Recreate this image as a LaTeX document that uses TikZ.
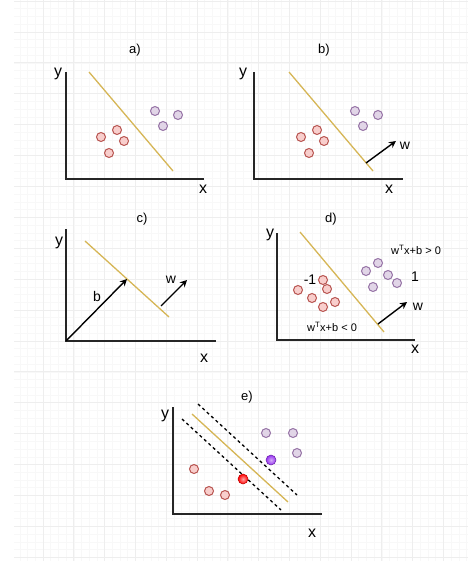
\documentclass[tikz,border=0pt]{standalone}
\usepackage{fontspec}
\setmainfont{Liberation Sans}
\usetikzlibrary{arrows.meta}
\definecolor{gminor}{RGB}{248,248,248}
\definecolor{gmajor}{RGB}{238,238,238}
\definecolor{redfill}{HTML}{F8CECC}
\definecolor{redline}{HTML}{B85450}
\definecolor{purfill}{HTML}{E1D5E7}
\definecolor{purline}{HTML}{9673A6}
\definecolor{gold}{HTML}{D6B656}
\definecolor{vio}{RGB}{150,50,240}
\tikzset{
  redpt/.style={circle,draw=redline,fill=redfill,line width=1pt,minimum size=9pt,inner sep=0pt},
  purpt/.style={circle,draw=purline,fill=purfill,line width=1pt,minimum size=9pt,inner sep=0pt},
  redball/.style={circle,draw=red!75!black,line width=0.5pt,inner color=red!35,outer color=red,minimum size=10pt,inner sep=0pt},
  purball/.style={circle,draw=vio!70!black,line width=0.5pt,inner color=vio!40,outer color=vio,minimum size=10pt,inner sep=0pt},
  axis/.style={draw=black!85,line width=1.2pt},
  sep/.style={draw=gold,line width=1.3pt},
  margin/.style={draw=black,line width=1.3pt,dash pattern=on 3pt off 3pt},
  vec/.style={draw=black,line width=1.4pt,-{Stealth[length=7pt,width=7pt]}},
  axlab/.style={font=\fontsize{16}{17}\selectfont,inner sep=0pt},
  title/.style={font=\fontsize{13}{15}\selectfont,inner sep=0pt},
  vlab/.style={font=\fontsize{14}{16}\selectfont,inner sep=0pt},
  small/.style={font=\fontsize{11}{13}\selectfont,inner sep=0pt},
}
\begin{document}
\begin{tikzpicture}[x=1pt,y=-1pt]
\useasboundingbox (0,0) rectangle (468,561);
\fill[white] (0,0) rectangle (468,561);
% grid
\begin{scope}
\clip (14,0) rectangle (468,561);
\foreach \i in {0,...,60} {
  \draw[gminor,line width=0.5pt] ({12.2+\i*7.7},0) -- ({12.2+\i*7.7},561);
}
\foreach \i in {0,...,73} {
  \draw[gminor,line width=0.5pt] (0,{1+\i*7.725}) -- (468,{1+\i*7.725});
}
\foreach \i in {0,...,15} {
  \draw[gmajor,line width=0.7pt] ({12.2+\i*30.8},0) -- ({12.2+\i*30.8},561);
}
\foreach \i in {0,...,18} {
  \draw[gmajor,line width=0.7pt] (0,{1+\i*30.9}) -- (468,{1+\i*30.9});
}
\end{scope}

% ---------- a)
\node[title] (ta) at (135,50) {a)};
\coordinate (ay) at (66,72);
\coordinate (ao) at (66,179);
\coordinate (ax) at (204,179);
\draw[axis] (ay) -- (ao) -- (ax);
\node[axlab] (ayl) at (58,74) {y};
\node[axlab] (axl) at (203,189) {x};
\coordinate (as1) at (89,72);
\coordinate (as2) at (173,171);
\draw[sep] (as1) -- (as2);
\node[redpt] (ar1) at (117,130) {};
\node[redpt] (ar2) at (101,137) {};
\node[redpt] (ar3) at (124,141) {};
\node[redpt] (ar4) at (109,153) {};
\node[purpt] (ap1) at (155,111) {};
\node[purpt] (ap2) at (178,115) {};
\node[purpt] (ap3) at (163,126) {};

% ---------- b)
\node[title] (tb) at (324,50) {b)};
\coordinate (by) at (254,72);
\coordinate (bo) at (254,179);
\coordinate (bx) at (403,179);
\draw[axis] (by) -- (bo) -- (bx);
\node[axlab] (byl) at (243,74) {y};
\node[axlab] (bxl) at (389,189) {x};
\coordinate (bs1) at (289,72);
\coordinate (bs2) at (373,171);
\draw[sep] (bs1) -- (bs2);
\node[redpt] (br1) at (317,130) {};
\node[redpt] (br2) at (301,137) {};
\node[redpt] (br3) at (324,141) {};
\node[redpt] (br4) at (309,153) {};
\node[purpt] (bp1) at (355,111) {};
\node[purpt] (bp2) at (378,115) {};
\node[purpt] (bp3) at (363,126) {};
\coordinate (bw0) at (366,163);
\coordinate (bw1) at (396,141);
\draw[vec] (bw0) -- (bw1);
\node[vlab] (bwl) at (405,146) {w};

% ---------- c)
\node[title] (tc) at (142,219) {c)};
\coordinate (cy) at (66,229);
\coordinate (co) at (66,341);
\coordinate (cx) at (216,341);
\draw[axis] (cy) -- (co) -- (cx);
\node[axlab] (cyl) at (59,243) {y};
\node[axlab] (cxl) at (204,358) {x};
\coordinate (cs1) at (85,241);
\coordinate (cs2) at (169,317);
\draw[sep] (cs1) -- (cs2);
\coordinate (cb1) at (127,279);
\draw[vec] (co) -- (cb1);
\node[vlab] (cbl) at (97,296) {b};
\coordinate (cw0) at (161,306);
\coordinate (cw1) at (187,280);
\draw[vec] (cw0) -- (cw1);
\node[vlab] (cwl) at (171,280) {w};

% ---------- d)
\node[title] (td) at (331,219) {d)};
\coordinate (dy) at (277,233);
\coordinate (do) at (277,340);
\coordinate (dx) at (415,340);
\draw[axis] (dy) -- (do) -- (dx);
\node[axlab] (dyl) at (270,235) {y};
\node[axlab] (dxl) at (415,349) {x};
\coordinate (ds1) at (300,232);
\coordinate (ds2) at (384,332);
\draw[sep] (ds1) -- (ds2);
\node[redpt] (dr1) at (323,280) {};
\node[redpt] (dr2) at (298,290) {};
\node[redpt] (dr3) at (327,289) {};
\node[redpt] (dr4) at (312,298) {};
\node[redpt] (dr5) at (335,302) {};
\node[redpt] (dr6) at (323,307) {};
\node[purpt] (dp1) at (378,263) {};
\node[purpt] (dp2) at (366,271) {};
\node[purpt] (dp3) at (388,275) {};
\node[purpt] (dp4) at (397,283) {};
\node[purpt] (dp5) at (373,287) {};
\node[vlab] (dm1) at (310,280) {-1};
\node[vlab] (dp1l) at (415,277) {1};
\node[small] (dgt) at (416,250) {w\textsuperscript{T}x+b > 0};
\node[small] (dlt) at (332,327) {w\textsuperscript{T}x+b < 0};
\coordinate (dw0) at (378,324);
\coordinate (dw1) at (407,302);
\draw[vec] (dw0) -- (dw1);
\node[vlab] (dwl) at (418,307) {w};

% ---------- e)
\node[title] (te) at (247,397) {e)};
\coordinate (ey) at (173,407);
\coordinate (eo) at (173,514);
\coordinate (ex) at (322,514);
\draw[axis] (ey) -- (eo) -- (ex);
\node[axlab] (eyl) at (165,416) {y};
\node[axlab] (exl) at (312,533) {x};
\coordinate (es1) at (192,414);
\coordinate (es2) at (288,502);
\draw[sep] (es1) -- (es2);
\coordinate (eu1) at (198,404);
\coordinate (eu2) at (297,495);
\draw[margin] (eu1) -- (eu2);
\coordinate (el1) at (182,419);
\coordinate (el2) at (281,510);
\draw[margin] (el1) -- (el2);
\node[redpt] (er1) at (194,469) {};
\node[redpt] (er2) at (209,491) {};
\node[redpt] (er3) at (225,495) {};
\node[redball] (erb) at (243,479) {};
\node[purpt] (ep1) at (266,433) {};
\node[purpt] (ep2) at (293,433) {};
\node[purpt] (ep3) at (297,453) {};
\node[purball] (epb) at (271,460) {};
\end{tikzpicture}
\end{document}
